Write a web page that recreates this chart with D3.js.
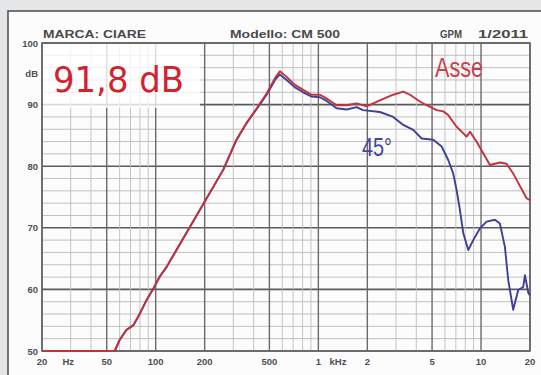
<!DOCTYPE html>
<html><head><meta charset="utf-8">
<script src="https://cdn.jsdelivr.net/npm/d3@7"></script>
<style>html,body{margin:0;padding:0;background:#e5e6e8;}svg{display:block;}</style>
</head><body>
<svg id="c" width="541" height="375"></svg>
<script>
// Asse (on-axis) response: [Hz, dB]
const asseFreq = [20,56,60,66,73,80,88,97,106,117,260,314,362,418,481,541,580,638,718,807,909,1023,1125,1295,1493,1718,1980,2389,2885,3325,3655,4209,4625,5340,5861,6285,7080,8153,8555,9380,11340,13060,14350,15770,19060,20000];
const asseDb   = [50,50,51.8,53.4,54.2,56.1,58.3,60.2,62.1,63.7,79.4,84.3,87.0,89.4,91.8,94.3,95.4,94.5,93.2,92.4,91.6,91.6,91.0,89.9,89.9,90.2,89.7,90.7,91.6,92.1,91.6,90.5,89.9,89.1,88.9,88.3,86.4,84.8,85.6,84.0,80.2,80.6,80.4,78.8,74.8,74.5];
// 45° off-axis response
const offFreq = [20,56,60,66,73,80,88,97,106,117,260,314,362,418,481,541,580,638,718,807,909,1023,1125,1295,1493,1718,1880,2389,2885,3325,3830,4315,5085,5725,6285,6750,7080,7415,7780,8350,8955,9840,10820,12170,13060,14020,14700,15770,16930,18170,18620,19540,20000];
const offDb   = [50,50,51.8,53.4,54.2,56.1,58.3,60.2,62.1,63.7,79.4,84.3,87.0,89.3,91.6,94.0,94.9,94.0,92.8,92.0,91.3,91.2,90.6,89.4,89.2,89.6,89.1,88.8,88.0,86.7,85.9,84.5,84.3,83.2,81.0,78.8,76.1,72.9,69.1,66.4,68.0,69.9,71.0,71.3,70.7,66.9,61.5,56.7,59.9,60.4,62.3,59.4,59.0];
// tick labels
const xTickVals = [20,50,100,200,500,1000,2000,5000,10000,20000];
const xTickText = ["20","50","100","200","500","1","2","5","10","20"];
const yTickVals = [100,95,90,80,70,60,50];
const yTickText = ["100","dB","90","80","70","60","50"];
const headerText = ["MARCA: CIARE","Modello: CM 500","GPM","1/2011"];
const headerX = [43,230,440,478];
const headerW = [103,110,22,50];

const svg = d3.select("#c");
const x = d3.scaleLog().domain([20,20000]).range([42,530]);
const y = d3.scaleLinear().domain([50,100]).range([351,43]);

svg.append("rect").attr("x",0).attr("y",0).attr("width",541).attr("height",375).attr("fill","#e5e6e8");
svg.append("rect").attr("x",8).attr("y",11).attr("width",540).attr("height",370).attr("fill","#fcfcfc").attr("stroke","#4a4a4a").attr("stroke-width",1.5);

// grid
const vf = [];
[10,100,1000,10000].forEach(d=>{for(let m=1;m<=9;m++){const f=m*d; if(f>=20&&f<=20000) vf.push({f,major:[1,2,5].includes(m)});}});
const g = svg.append("g");
const hv = d3.range(50,101,2);
g.selectAll("line.h").data(hv).join("line")
  .attr("x1",x(20)).attr("x2",x(20000)).attr("y1",d=>y(d)).attr("y2",d=>y(d))
  .attr("stroke",d=>d%10===0?"#5a5a5a":"#b9b9b9").attr("stroke-width",d=>d%10===0?1.6:0.9);
g.selectAll("line.v").data(vf).join("line")
  .attr("x1",d=>x(d.f)).attr("x2",d=>x(d.f)).attr("y1",y(100)).attr("y2",y(50))
  .attr("stroke",d=>d.major?"#6a6a6a":"#bdbdbd").attr("stroke-width",d=>d.major?1.4:0.9);
svg.append("rect").attr("x",x(20)).attr("y",y(100)).attr("width",x(20000)-x(20)).attr("height",y(50)-y(100))
  .attr("fill","none").attr("stroke","#666").attr("stroke-width",1.6);

// faded box behind big label
svg.append("rect").attr("x",x(20)+1).attr("y",y(100)+1).attr("width",157).attr("height",64).attr("fill","#fff").attr("opacity",0.78);

// curves
const line = d3.line().x(d=>x(d[0])).y(d=>y(d[1]));
svg.append("path").datum(offFreq.map((f,i)=>[f,offDb[i]])).attr("d",line)
  .attr("fill","none").attr("stroke","#3f3f95").attr("stroke-width",1.9).attr("stroke-linejoin","round");
svg.append("path").datum(asseFreq.map((f,i)=>[f,asseDb[i]])).attr("d",line)
  .attr("fill","none").attr("stroke","#c2313c").attr("stroke-width",1.9).attr("stroke-linejoin","round");

// labels
const tf = "'Liberation Sans', Arial, sans-serif";
svg.selectAll("text.yt").data(yTickVals).join("text")
  .attr("x",38).attr("y",d=>y(d)+3.5).attr("text-anchor","end")
  .attr("font-family",tf).attr("font-weight","bold").attr("font-size",9.5).attr("fill","#505050")
  .text((d,i)=>yTickText[i]);
svg.selectAll("text.xt").data(xTickVals).join("text")
  .attr("x",d=>x(d)).attr("y",365).attr("text-anchor","middle")
  .attr("font-family",tf).attr("font-weight","bold").attr("font-size",9.5).attr("fill","#505050")
  .text((d,i)=>xTickText[i]);
svg.append("text").attr("x",x(29)).attr("y",365).attr("text-anchor","middle")
  .attr("font-family",tf).attr("font-weight","bold").attr("font-size",9.5).attr("fill","#505050").text("Hz");
svg.append("text").attr("x",x(1320)).attr("y",365).attr("text-anchor","middle")
  .attr("font-family",tf).attr("font-weight","bold").attr("font-size",9.5).attr("fill","#505050").text("kHz");
svg.selectAll("text.hd").data(headerText).join("text")
  .attr("x",(d,i)=>headerX[i]).attr("y",38)
  .attr("textLength",(d,i)=>headerW[i]).attr("lengthAdjust","spacingAndGlyphs")
  .attr("font-family",tf).attr("font-weight","bold").attr("font-size",10).attr("fill","#4a4a4a")
  .text(d=>d);

svg.append("text").attr("x",53).attr("y",92).attr("textLength",131).attr("lengthAdjust","spacingAndGlyphs")
  .attr("font-family","'DejaVu Sans', sans-serif").attr("font-size",36).attr("fill","#d1232f").text("91,8 dB");
svg.append("text").attr("x",435).attr("y",77).attr("textLength",48).attr("lengthAdjust","spacingAndGlyphs")
  .attr("font-family",tf).attr("font-size",27).attr("fill","#c84148").text("Asse");
svg.append("text").attr("x",362).attr("y",156).attr("textLength",30).attr("lengthAdjust","spacingAndGlyphs")
  .attr("font-family",tf).attr("font-size",25).attr("fill","#45459a").text("45°");
</script>
</body></html>
